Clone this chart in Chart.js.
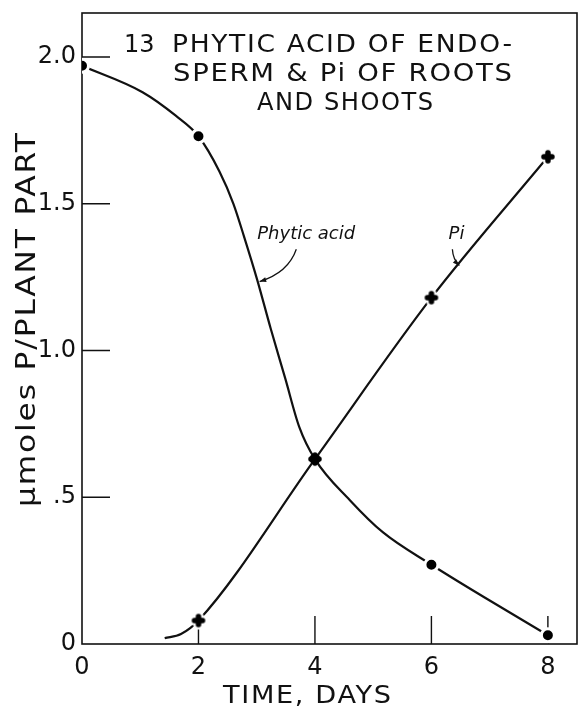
<!DOCTYPE html>
<html><head><meta charset="utf-8">
<script src="https://cdn.jsdelivr.net/npm/chart.js@4.4.1/dist/chart.umd.min.js"></script>
<style>html,body{margin:0;padding:0;background:#fff;overflow:hidden;}#wrap{width:579px;height:711px;position:relative;}canvas{display:block;}</style>
</head><body><div id="wrap"><canvas id="c"></canvas></div>
<script>
// ---- data ----
const days = [0, 2, 4, 6, 8];
const phyticAcid = [1.97, 1.73, 0.63, 0.27, 0.03];
const piDays = [2, 4, 6, 8];
const piValues = [0.08, 0.63, 1.18, 1.66];
// hand-drawn curves
const phyticCurveX = [0, 1.04, 1.61, 2, 2.36, 2.6, 2.78, 3.01, 3.24, 3.49, 3.73, 4, 4.6, 5.17, 6, 6.9, 8];
const phyticCurveY = [1.97, 1.88, 1.80, 1.73, 1.61, 1.50, 1.39, 1.24, 1.075, 0.905, 0.74, 0.63, 0.49, 0.38, 0.27, 0.16, 0.03];
const piCurveX = [1.42, 1.7, 2, 4, 6, 8];
const piCurveY = [0.02, 0.034, 0.08, 0.63, 1.18, 1.66];
const xTickValues = [0, 2, 4, 6, 8];
const xTickLabels = ['0', '2', '4', '6', '8'];
const yTickValues = [0, 0.5, 1, 1.5, 2];
const yTickLabels = ['0', '.5', '1.0', '1.5', '2.0'];
const figureNumber = '13';
const titleLines = ['PHYTIC ACID OF ENDO-', 'SPERM & Pi OF ROOTS', 'AND SHOOTS'];
const xTitle = 'TIME, DAYS';
const yTitle = 'μmoles P/PLANT PART';
const phyticLabel = 'Phytic acid';
const piLabel = 'Pi';

const FONT = '"DejaVu Sans", "Liberation Sans", sans-serif';
const INK = '#111';

function plusImage(halo) {
  const c = document.createElement('canvas');
  c.width = c.height = 24;
  const g = c.getContext('2d');
  g.lineCap = 'round';
  const m = 12, a = 4;
  const plus = () => { g.beginPath(); g.moveTo(m - a, m); g.lineTo(m + a, m); g.moveTo(m, m - a); g.lineTo(m, m + a); g.stroke(); };
  if (halo) { g.strokeStyle = '#fff'; g.lineWidth = 10; plus(); }
  g.strokeStyle = '#000'; g.lineWidth = 5.5; plus();
  return c;
}
const plusHalo = plusImage(true), plusPlain = plusImage(false);

const toXY = (xs, ys) => xs.map((v, i) => ({ x: v, y: ys[i] }));

// draw text horizontally stretched to span x0..x1 (lettering look)
function fitText(ctx, text, x0, x1, y, spacing) {
  ctx.letterSpacing = (spacing || 0) + 'px';
  const w = ctx.measureText(text).width - (spacing || 0);
  const sx = (x1 - x0) / w;
  ctx.save();
  ctx.translate(x0, y);
  ctx.scale(sx, 1);
  ctx.textAlign = 'left';
  ctx.fillText(text, 0, 0);
  ctx.restore();
  ctx.letterSpacing = '0px';
}

const decor = {
  id: 'decor',
  beforeDatasetsDraw(chart) {
    const { ctx, chartArea: a, scales: { x, y } } = chart;
    ctx.save();
    ctx.strokeStyle = INK; ctx.lineWidth = 1.6;
    ctx.strokeRect(a.left, a.top, a.right - a.left, a.bottom - a.top);
    ctx.lineWidth = 1.4;
    ctx.beginPath();
    xTickValues.forEach(v => { if (v === 0) return; const p = x.getPixelForValue(v); ctx.moveTo(p, a.bottom); ctx.lineTo(p, a.bottom - 28); });
    yTickValues.forEach(v => { if (v === 0) return; const p = y.getPixelForValue(v); ctx.moveTo(a.left, p); ctx.lineTo(a.left + 28, p); });
    ctx.stroke();
    ctx.restore();
  },
  afterDatasetsDraw(chart) {
    const { ctx, scales: { x, y } } = chart;
    ctx.save();
    ctx.fillStyle = INK;
    ctx.textBaseline = 'middle';
    // title inside the frame
    ctx.font = '24px ' + FONT;
    ctx.textAlign = 'left';
    ctx.fillText(figureNumber, 124, 46);
    fitText(ctx, titleLines[0], 172, 512, 46, 1.5);
    fitText(ctx, titleLines[1], 173, 512, 75, 1.5);
    fitText(ctx, titleLines[2], 257, 433, 104, 1.5);
    // axis titles
    ctx.font = '25px ' + FONT;
    fitText(ctx, xTitle, 223, 391, 696, 1.5);
    ctx.save();
    ctx.translate(28, 507);
    ctx.rotate(-Math.PI / 2);
    ctx.font = '26px ' + FONT;
    fitText(ctx, yTitle, 0, 374, 0, 1.5);
    ctx.restore();
    // curve labels with pointer arrows
    ctx.textAlign = 'center';
    ctx.font = 'italic 18px ' + FONT;
    ctx.fillText(phyticLabel, x.getPixelForValue(3.85), y.getPixelForValue(1.397));
    ctx.fillText(piLabel, x.getPixelForValue(6.43), y.getPixelForValue(1.395));
    const arrow = (s, c, e) => {
      const sx = x.getPixelForValue(s[0]), sy = y.getPixelForValue(s[1]);
      const cx = x.getPixelForValue(c[0]), cy = y.getPixelForValue(c[1]);
      const ex = x.getPixelForValue(e[0]), ey = y.getPixelForValue(e[1]);
      ctx.strokeStyle = INK; ctx.lineWidth = 1.3;
      ctx.beginPath(); ctx.moveTo(sx, sy); ctx.quadraticCurveTo(cx, cy, ex, ey); ctx.stroke();
      const ang = Math.atan2(ey - cy, ex - cx);
      ctx.beginPath();
      ctx.moveTo(ex, ey);
      ctx.lineTo(ex - 7 * Math.cos(ang - 0.35), ey - 7 * Math.sin(ang - 0.35));
      ctx.lineTo(ex - 7 * Math.cos(ang + 0.35), ey - 7 * Math.sin(ang + 0.35));
      ctx.closePath(); ctx.fill();
    };
    arrow([3.68, 1.345], [3.54, 1.265], [3.05, 1.235]);
    arrow([6.36, 1.345], [6.37, 1.31], [6.48, 1.29]);
    ctx.restore();
  }
};

new Chart(document.getElementById('c'), {
  type: 'line',
  data: {
    datasets: [
      { data: toXY(phyticCurveX, phyticCurveY), borderColor: INK, borderWidth: 2.2, pointRadius: 0, cubicInterpolationMode: 'monotone', fill: false, order: 3 },
      { data: toXY(piCurveX, piCurveY), borderColor: INK, borderWidth: 2.2, pointRadius: 0, cubicInterpolationMode: 'monotone', fill: false, order: 3 },
      { data: toXY(days, phyticAcid), showLine: false, pointStyle: 'circle',
        pointRadius: c => c.dataIndex === 2 ? 5.5 : 6.5,
        pointBorderWidth: c => c.dataIndex === 2 ? 0 : 3,
        pointBackgroundColor: '#000', pointBorderColor: '#fff', order: 2 },
      { data: toXY(piDays, piValues), showLine: false,
        pointStyle: c => c.dataIndex === 1 ? plusPlain : plusHalo, pointRadius: 8, order: 1 }
    ]
  },
  options: {
    responsive: true, maintainAspectRatio: false, animation: false,
    layout: { autoPadding: false, padding: { top: 13, right: 2, left: 0, bottom: 0 } },
    plugins: { legend: { display: false }, tooltip: { enabled: false } },
    scales: {
      x: {
        type: 'linear', min: 0, max: 8.5,
        grid: { display: false, drawTicks: false }, border: { display: false },
        afterBuildTicks: s => { s.ticks = xTickValues.map(v => ({ value: v })); },
        afterFit: s => { s.height = 67; s.paddingLeft = 0; s.paddingRight = 0; },
        ticks: { autoSkip: false, maxRotation: 0, padding: 9, color: INK, font: { size: 24, family: FONT },
          callback: v => xTickLabels[xTickValues.indexOf(v)] }
      },
      y: {
        type: 'linear', min: 0, max: 2.15,
        grid: { display: false, drawTicks: false }, border: { display: false },
        afterBuildTicks: s => { s.ticks = yTickValues.map(v => ({ value: v })); },
        afterFit: s => { s.width = 82; s.paddingTop = 0; s.paddingBottom = 0; },
        ticks: { autoSkip: false, padding: 6, color: INK, font: { size: 24, family: FONT },
          callback: v => yTickLabels[yTickValues.indexOf(v)] }
      }
    }
  },
  plugins: [decor]
});
</script></body></html>
